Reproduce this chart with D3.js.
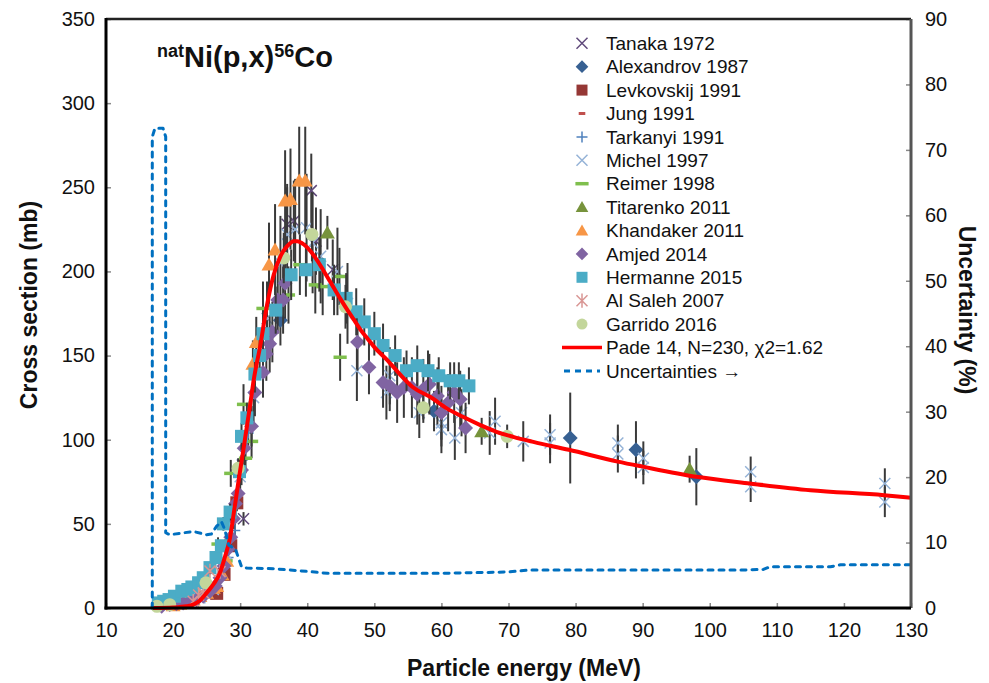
<!DOCTYPE html>
<html><head><meta charset="utf-8">
<script src="https://cdn.jsdelivr.net/npm/d3@7/dist/d3.min.js"></script>
<style>
body{margin:0;background:#fff;}
svg{display:block;font-family:"Liberation Sans",Arial,sans-serif;}
</style></head>
<body><svg id="c" width="989" height="683"></svg>
<script>
// ---- data: [energy MeV, cross section mb, error mb]
const tanaka = [[30.5,53,4],[37,228,22],[38,230,24],[40.6,248,22],[41.3,218,20],[43.8,201,18]];
const alexandrov = [[36,171,15],[58.9,117,12],[79.2,101,27],[89,94,17],[98,78,17]];
const levkovskij = [[26.5,8.7,1],[27.6,20,2],[28.6,37,3],[29.5,62.5,5]];
const jung = [[23,4,0],[25.5,10,0],[27.5,24,0]];
const tarkanyi = [[25,9,1],[26.5,15,2],[28.2,30,3],[29.2,46,5],[30.3,88,8],[31.2,104,10]];
const michel = [[24,6,1],[26,11,2],[28,32,4],[30,78,10],[32,125,15],[34,172,22],[36,205,28],[37,222,30],[38.2,225,30],[39.9,226,32],[40.8,217,30],[42,209,28],[44.5,200,26],[46,181,24],[47.4,141,18],[51.8,128,16],[52.3,138,17],[56.7,116,15],[60,110,14],[60,106,14],[62,101,13],[63,116,14],[67.2,104,13],[68,111,14],[72.2,99,12],[76.2,103,12],[76.2,98,12],[86.3,98,11],[86.3,91.5,11],[90.1,89,10],[90.1,83.5,10],[106.1,81,9],[106.1,72,9],[126.1,74,9],[126.1,63,9]];
const reimer = [[26.7,38,4],[27.9,28,3],[28.6,80,8],[30.5,121,12],[30.8,89,9],[31.7,99,10],[33.4,178,16],[37.2,186,17],[38.9,204,18],[41.2,192,17],[42.3,191,17],[44.8,197,17],[44.9,149,14]];
const titarenko = [[43,223,10],[66,105,8],[97,82.5,8]];
const khandaker = [[20,1.5,0.5],[21,2.5,0.5],[22,3.5,0.5],[23,5,1],[24,7,1],[25,9,1],[26,12,1],[26.5,13,1],[27.3,20,2],[28,28,3],[31.9,145,14],[32.4,158,15],[34.3,204,25],[35.2,213,27],[36.7,242,30],[37.5,243,30],[38.8,254,32],[39.7,254,32]];
const amjed = [[18.3,1,0.5],[19.5,2,0.5],[20.5,2.5,0.5],[21.5,3,0.5],[22.5,4,0.5],[23.5,5,1],[24.5,7,1],[25.5,10,1],[26.3,13,2],[27,18,2],[27.6,25,3],[28.2,35,4],[28.6,42,5],[29,53,6],[29.3,62,7],[29.7,68,8],[30.2,82,9],[30.6,95,10],[31.7,108,12],[32.2,128,14],[33.4,140,15],[33.9,151,16],[34.4,157,17],[34.8,164,18],[35.6,183,20],[36.4,183,20],[36.7,193,21],[47.5,158,17],[49.2,143,16],[51.3,134,15],[52.3,132,15],[53.4,128,18],[54.4,131,18],[55.6,131,18],[56.4,127,18],[57.3,130,18],[58.2,133,18],[59.4,126,17],[60,116,16],[61,122,17],[61.9,128,18],[62.8,124,17],[63.6,107,15]];
const hermanne = [[17.8,3,1],[18.6,4,1],[19.4,5,1],[20.2,7,1],[21.3,10,1],[22.2,11,1],[22.8,12.5,1],[23.8,15,2],[24.5,18,2],[25.5,24,2],[26.4,30,3],[27.2,37,3],[27.5,50,4],[28.5,57,5],[29.9,81,7],[30.2,102,8],[31,113,9],[32.2,139,11],[32.9,150,12],[33.4,163,13],[35.3,177,14],[37.6,198,15],[39.8,201,16],[41.8,204,16],[44,189,15],[45.8,184,15],[47.3,176,14],[48.5,170,14],[50,163,13],[51.3,156,13],[53.1,150,12],[54.8,141,12],[56.4,144,12],[58,141,12],[59.6,138,11],[61.3,135,11],[62.6,135,11],[64.1,132,11]];
const alsaleh = [[23,4,0.5],[23.8,7.7,1],[24.5,9,1],[25.5,22,2],[27,21.6,2]];
const garrido = [[17.6,1,0],[19.5,2,0],[24.9,15,1],[29.7,83,6],[36.5,208,15],[40.7,222,16],[45.7,179,13],[57.3,119,9],[69.8,102,7]];
// Pade fit curve (mb)
const padeE = [17,20,22,23,24,25,26,27,27.7,28.5,29,29.7,30.4,31.5,32,33,34,35,36,37,38,38.5,39.5,40.5,41.4,42.5,43.4,44,44.9,46,47,48,49,50,52,53,55.8,58.3,60.8,63.2,65.8,68.2,70.7,73.7,79,86.3,90,98,106,115,126,130];
const padeV = [0,0.3,1,2,4.5,9,14,21,30,42,55,74,92,121,135,156,180,198,209,215,218,218,216,212,207,200,194,190,184,177,171,165,160,155,147,142.5,131,125.5,118.6,113.6,108.7,104.7,101.7,98.7,94,87,84,78,74,70,67,65.5];
// Uncertainty (%), right axis
const uncE = [16.9,16.9,17.3,18.5,18.9,18.9,19.5,21,23,25,25.7,26.5,27.2,27.7,28.3,29.3,29.8,30.2,31,35,40,43,50,60,70,73,80,90,105,108,109,118,119.5,130];
const uncV = [0,72,73.3,73.3,72,11.5,11.2,11.4,11.7,11.2,11.3,12.5,13.2,12,9.6,9,7.5,6.3,6.1,6.0,5.6,5.3,5.3,5.3,5.5,5.8,5.8,5.8,5.8,5.9,6.3,6.3,6.6,6.6];
const xTicks = [10,20,30,40,50,60,70,80,90,100,110,120,130];
const yTicks = [0,50,100,150,200,250,300,350];
const y2Ticks = [0,10,20,30,40,50,60,70,80,90];

const series = [
 {name:"Tanaka 1972", data:tanaka, type:"x", color:"#604a7b"},
 {name:"Alexandrov 1987", data:alexandrov, type:"diamond", color:"#376092"},
 {name:"Levkovskij 1991", data:levkovskij, type:"square", color:"#953735"},
 {name:"Jung 1991", data:jung, type:"smalldash", color:"#c0504d"},
 {name:"Tarkanyi 1991", data:tarkanyi, type:"plus", color:"#4f81bd"},
 {name:"Michel 1997", data:michel, type:"x", color:"#95b3d7"},
 {name:"Reimer 1998", data:reimer, type:"dash", color:"#7fbf4d"},
 {name:"Titarenko 2011", data:titarenko, type:"triangle", color:"#77933c"},
 {name:"Khandaker 2011", data:khandaker, type:"triangle", color:"#f79646"},
 {name:"Amjed 2014", data:amjed, type:"diamond", color:"#8064a2"},
 {name:"Hermanne 2015", data:hermanne, type:"square", color:"#4bacc6"},
 {name:"Al Saleh 2007", data:alsaleh, type:"star", color:"#d99694"},
 {name:"Garrido 2016", data:garrido, type:"circle", color:"#c3d69b"}
];

const L=106,R=911,T=19,B=608;
const x = d3.scaleLinear().domain([10,130]).range([L,R]);
const y = d3.scaleLinear().domain([0,350]).range([B,T]);
const y2 = d3.scaleLinear().domain([0,90]).range([B,T]);
const svg = d3.select("#c");

function marker(g, type, color, s){
  if(type==="square"){
    g.append("rect").attr("x",-s).attr("y",-s).attr("width",2*s).attr("height",2*s).attr("fill",color);
  } else if(type==="diamond"){
    g.append("path").attr("d",`M0,${-s*1.15}L${s*1.15},0L0,${s*1.15}L${-s*1.15},0Z`).attr("fill",color);
  } else if(type==="triangle"){
    g.append("path").attr("d",`M0,${-s*1.1}L${s*1.15},${s*0.9}L${-s*1.15},${s*0.9}Z`).attr("fill",color);
  } else if(type==="circle"){
    g.append("circle").attr("r",s).attr("fill",color);
  } else if(type==="x"){
    g.append("path").attr("d",`M${-s},${-s}L${s},${s}M${-s},${s}L${s},${-s}`).attr("stroke",color).attr("stroke-width",1.5).attr("fill","none");
  } else if(type==="plus"){
    g.append("path").attr("d",`M${-s},0L${s},0M0,${-s}L0,${s}`).attr("stroke",color).attr("stroke-width",1.5).attr("fill","none");
  } else if(type==="star"){
    g.append("path").attr("d",`M${-s},${-s}L${s},${s}M${-s},${s}L${s},${-s}M0,${-s*1.3}L0,${s*1.3}`).attr("stroke",color).attr("stroke-width",1.5).attr("fill","none");
  } else if(type==="dash"){
    g.append("path").attr("d",`M${-s*1.1},0L${s*1.1},0`).attr("stroke",color).attr("stroke-width",3.5).attr("fill","none");
  } else if(type==="smalldash"){
    g.append("path").attr("d",`M${-s*0.6},0L${s*0.6},0`).attr("stroke",color).attr("stroke-width",3).attr("fill","none");
  }
}

// axes ticks
const gx = svg.append("g").attr("transform",`translate(0,${B})`)
  .call(d3.axisBottom(x).tickValues(xTicks).tickSize(-5).tickPadding(15).tickFormat(d3.format("d")));
const gy = svg.append("g").attr("transform",`translate(${L},0)`)
  .call(d3.axisLeft(y).tickValues(yTicks).tickSize(-5).tickPadding(11).tickFormat(d3.format("d")));
const gy2 = svg.append("g").attr("transform",`translate(${R},0)`)
  .call(d3.axisRight(y2).tickValues(y2Ticks).tickSize(-5).tickPadding(14).tickFormat(d3.format("d")));
[gx,gy,gy2].forEach(g=>{
  g.select(".domain").remove();
  g.selectAll(".tick line").attr("stroke","#888").attr("stroke-width",1.5);
  g.selectAll(".tick text").attr("font-size",20).attr("fill","#111").attr("font-family","Liberation Sans, Arial, sans-serif");
});

const plot = svg.append("g");
series.forEach(sr=>{
  const g = plot.append("g");
  g.selectAll("line.err").data(sr.data.filter(d=>d[2]>0)).join("line")
    .attr("x1",d=>x(d[0])).attr("x2",d=>x(d[0]))
    .attr("y1",d=>y(d[1]-d[2])).attr("y2",d=>y(d[1]+d[2]))
    .attr("stroke","#3a3a3a").attr("stroke-width",2);
  const size = (sr.type==="x"||sr.type==="star"||sr.type==="plus")?5.5:(sr.type==="dash"?6:6.5);
  sr.data.forEach(d=>{
    const m = g.append("g").attr("transform",`translate(${x(d[0])},${y(d[1])})`);
    marker(m, sr.type, sr.color, size);
  });
});

// Pade curve
const pade = padeE.map((e,i)=>[e,padeV[i]]);
plot.append("path").datum(pade)
  .attr("d",d3.line().x(d=>x(d[0])).y(d=>y(d[1])).curve(d3.curveMonotoneX))
  .attr("fill","none").attr("stroke","#ff0000").attr("stroke-width",4);

// uncertainty
const unc = uncE.map((e,i)=>[e,uncV[i]]);
plot.append("path").datum(unc)
  .attr("d",d3.line().x(d=>x(d[0])).y(d=>y2(d[1])))
  .attr("fill","none").attr("stroke","#0070c0").attr("stroke-width",3)
  .attr("stroke-dasharray","5,6").attr("stroke-linecap","round").attr("stroke-linejoin","round");

// frame
svg.append("line").attr("x1",L).attr("x2",R).attr("y1",T).attr("y2",T).attr("stroke","#222").attr("stroke-width",2.5);
svg.append("line").attr("x1",R).attr("x2",R).attr("y1",T).attr("y2",B).attr("stroke","#555").attr("stroke-width",3);
svg.append("line").attr("x1",L).attr("x2",L).attr("y1",T-1).attr("y2",B+1.5).attr("stroke","#000").attr("stroke-width",3);
svg.append("line").attr("x1",L-1.5).attr("x2",R).attr("y1",B).attr("y2",B).attr("stroke","#000").attr("stroke-width",3);

// titles
svg.append("text").attr("x",524).attr("y",676).attr("text-anchor","middle")
  .attr("font-size",23).attr("font-weight","bold").attr("fill","#111").text("Particle energy (MeV)");
svg.append("text").attr("transform","translate(37,305) rotate(-90)").attr("text-anchor","middle")
  .attr("font-size",23).attr("font-weight","bold").attr("fill","#111").text("Cross section (mb)");
svg.append("text").attr("transform","translate(959,310) rotate(90)").attr("text-anchor","middle")
  .attr("font-size",23).attr("font-weight","bold").attr("fill","#111").text("Uncertainty (%)");

const tt = svg.append("text").attr("x",157).attr("y",67).attr("font-weight","bold").attr("fill","#111");
tt.append("tspan").attr("font-size",18).attr("dy",-10).text("nat");
tt.append("tspan").attr("font-size",29).attr("dy",10).text("Ni(p,x)");
tt.append("tspan").attr("font-size",18).attr("dy",-10).text("56");
tt.append("tspan").attr("font-size",29).attr("dy",10).text("Co");

// legend
const lg = svg.append("g");
const rowY = i => 43.3 + i*23.4;
series.forEach((sr,i)=>{
  const m = lg.append("g").attr("transform",`translate(582,${rowY(i)})`);
  const s = (sr.type==="x"||sr.type==="star"||sr.type==="plus")?5.5:(sr.type==="dash"?6:5.5);
  marker(m, sr.type, sr.color, s);
  lg.append("text").attr("x",606).attr("y",rowY(i)).attr("dy","0.35em").attr("font-size",19).attr("fill","#111").text(sr.name);
});
const pi = series.length;
lg.append("line").attr("x1",562).attr("x2",602).attr("y1",rowY(pi)).attr("y2",rowY(pi)).attr("stroke","#ff0000").attr("stroke-width",3.5);
lg.append("text").attr("x",606).attr("y",rowY(pi)).attr("dy","0.35em").attr("font-size",19).attr("fill","#111").text("Pade 14, N=230, \u03c72=1.62");
lg.append("line").attr("x1",564).attr("x2",600).attr("y1",rowY(pi+1)).attr("y2",rowY(pi+1)).attr("stroke","#0070c0").attr("stroke-width",3)
  .attr("stroke-dasharray","6,5");
lg.append("text").attr("x",606).attr("y",rowY(pi+1)).attr("dy","0.35em").attr("font-size",19).attr("fill","#111").text("Uncertainties \u2192");
</script></body></html>
